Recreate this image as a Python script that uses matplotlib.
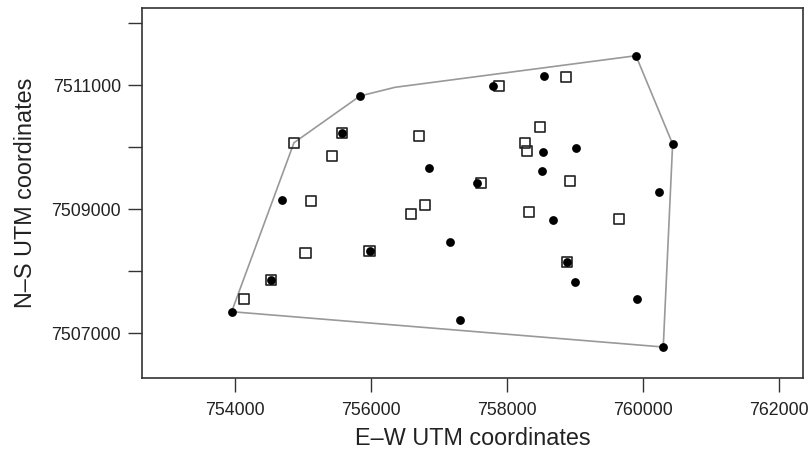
"""Sampling sites (UTM) with convex hull of the study area."""

import matplotlib
matplotlib.use("Agg")
import matplotlib.pyplot as plt

# filled circles
circle_x = [753947, 754683, 755836, 755575, 755978, 754526, 756847, 757554,
            757156, 757310, 757798, 758549, 758534, 759011, 758511, 758673,
            758879, 759006, 759909, 760301, 760238, 760439, 759899]
circle_y = [7507348, 7509150, 7510823, 7510222, 7508331, 7507859, 7509658, 7509426,
            7508471, 7507214, 7510984, 7511140, 7509916, 7509990, 7509615, 7508830,
            7508153, 7507822, 7507548, 7506779, 7509271, 7510050, 7511472]

# open squares
square_x = [754864, 755575, 755419, 756709, 755110, 756582, 756793, 755036,
            755978, 754526, 754124, 757613, 757887, 758869, 758486, 758265,
            758290, 758928, 758324, 759649, 758879]
square_y = [7510070, 7510222, 7509861, 7510178, 7509130, 7508922, 7509067, 7508289,
            7508331, 7507859, 7507553, 7509426, 7510984, 7511134, 7510328, 7510061,
            7509932, 7509453, 7508959, 7508841, 7508153]

# convex hull outline
hull_x = [753947, 754864, 755836, 756351, 759899, 760439, 760301, 753947]
hull_y = [7507348, 7510070, 7510823, 7510963, 7511472, 7510050, 7506779, 7507348]

x_ticks = [754000, 756000, 758000, 760000, 762000]
y_ticks = [7507000, 7508000, 7509000, 7510000, 7511000, 7512000]
y_labels = ["7507000", "", "7509000", "", "7511000", ""]

plt.rcParams["font.family"] = ["Liberation Sans", "DejaVu Sans"]

fig = plt.figure(figsize=(8.11, 4.51), dpi=100)
ax = fig.add_axes([0.1757, 0.1619, 0.8144, 0.8197])

ax.plot(hull_x, hull_y, color="#999999", lw=1.2, zorder=1)
ax.scatter(square_x, square_y, marker="s", s=55, facecolors="none",
           edgecolors="#222222", linewidths=1.2, zorder=2)
ax.scatter(circle_x, circle_y, marker="o", s=40, color="black",
           linewidths=0, zorder=3)

ax.set_xlim(752634, 762358)
ax.set_ylim(7506280, 7512236)
ax.set_xticks(x_ticks)
ax.set_xticklabels([str(t) for t in x_ticks])
ax.set_yticks(y_ticks)
ax.set_yticklabels(y_labels)

ax.tick_params(axis="x", length=10, width=1.0, color="#333333",
               labelsize=12.8, pad=7, labelcolor="#222222")
ax.tick_params(axis="y", length=10, width=1.0, color="#333333",
               labelsize=12.8, pad=5.5, labelcolor="#222222")
for sp in ax.spines.values():
    sp.set_linewidth(1.2)
    sp.set_color("#333333")

ax.set_xlabel("E\u2013W UTM coordinates", fontsize=16.8, color="#222222", labelpad=6)
ax.set_ylabel("N\u2013S UTM coordinates", fontsize=16.8, color="#222222", labelpad=10.5)

fig.savefig("out.png", dpi=100)
plt.close(fig)
